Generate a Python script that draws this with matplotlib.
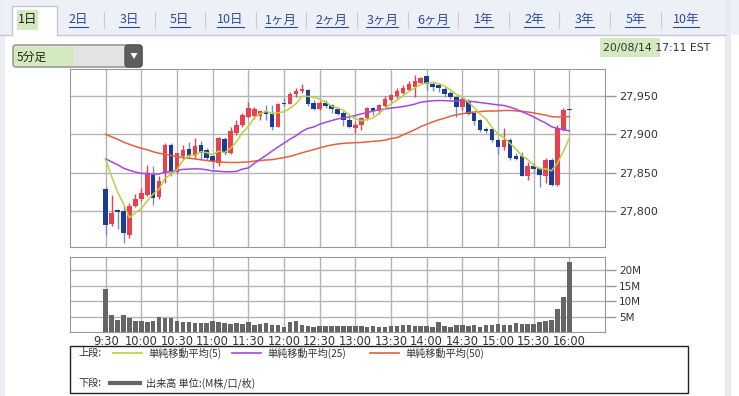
import numpy as np
import matplotlib.pyplot as plt
from matplotlib.patches import Rectangle, FancyBboxPatch, Polygon

jp = ['Noto Sans CJK JP', 'DejaVu Sans']
plt.rcParams['font.family'] = ['DejaVu Sans', 'Noto Sans CJK JP']

W, H = 739, 396

tabs = ['1日', '2日', '3日', '5日', '10日', '1ヶ月', '2ヶ月', '3ヶ月', '6ヶ月',
        '1年', '2年', '3年', '5年', '10年']
time_labels = ['9:30', '10:00', '10:30', '11:00', '11:30', '12:00', '12:30',
               '13:00', '13:30', '14:00', '14:30', '15:00', '15:30', '16:00']

# 5 minute bars 9:30 .. 16:00
opens = [27829, 27783, 27801, 27800, 27769, 27807, 27815, 27821, 27847, 27818,
         27849, 27886, 27851, 27871, 27881, 27871, 27886, 27880, 27871, 27862,
         27894, 27875, 27901, 27912, 27923, 27924, 27924, 27930, 27927, 27910,
         27941, 27940, 27953, 27956, 27957, 27941, 27933, 27941, 27938, 27933,
         27928, 27919, 27908, 27912, 27921, 27934, 27931, 27937, 27945, 27950,
         27954, 27958, 27961, 27967, 27976, 27965, 27964, 27959, 27954, 27949,
         27936, 27943, 27927, 27919, 27907, 27907, 27893, 27883, 27893, 27871,
         27871, 27846, 27858, 27856, 27846, 27867, 27834, 27906, 27933]
highs = [27831, 27821, 27803, 27806, 27810, 27822, 27830, 27860, 27858, 27845,
         27888, 27889, 27876, 27886, 27890, 27895, 27891, 27882, 27873, 27897,
         27896, 27910, 27918, 27928, 27942, 27936, 27932, 27938, 27938, 27941,
         27947, 27955, 27960, 27966, 27959, 27944, 27943, 27944, 27940, 27935,
         27930, 27922, 27916, 27923, 27936, 27936, 27940, 27950, 27953, 27960,
         27964, 27970, 27977, 27975, 27977, 27969, 27966, 27961, 27956, 27950,
         27948, 27946, 27928, 27920, 27909, 27908, 27894, 27908, 27895, 27875,
         27877, 27864, 27862, 27857, 27869, 27869, 27912, 27934, 27933]
lows = [27769, 27781, 27776, 27758, 27765, 27805, 27813, 27819, 27808, 27816,
        27836, 27845, 27849, 27867, 27869, 27869, 27867, 27866, 27856, 27859,
        27873, 27874, 27899, 27910, 27921, 27920, 27918, 27919, 27906, 27909,
        27937, 27939, 27949, 27954, 27937, 27931, 27931, 27934, 27928, 27925,
        27911, 27908, 27902, 27906, 27919, 27925, 27927, 27935, 27943, 27947,
        27952, 27956, 27949, 27965, 27957, 27956, 27955, 27949, 27946, 27923,
        27932, 27925, 27912, 27903, 27901, 27890, 27874, 27880, 27867, 27866,
        27845, 27840, 27850, 27831, 27836, 27833, 27833, 27904, 27932]
closes = [27782, 27797, 27798, 27771, 27807, 27816, 27823, 27848, 27817, 27839,
          27886, 27851, 27875, 27879, 27871, 27885, 27876, 27869, 27865, 27895,
          27875, 27904, 27912, 27925, 27934, 27933, 27930, 27927, 27910, 27940,
          27939, 27953, 27956, 27959, 27940, 27933, 27941, 27937, 27933, 27927,
          27918, 27910, 27912, 27921, 27934, 27930, 27938, 27946, 27951, 27956,
          27960, 27966, 27969, 27973, 27966, 27962, 27960, 27953, 27948, 27936,
          27946, 27927, 27917, 27905, 27904, 27892, 27883, 27893, 27869, 27868,
          27846, 27859, 27855, 27847, 27867, 27834, 27908, 27932, 27932]
# volume in millions
volume = [13.9, 5.4, 4.0, 5.4, 4.5, 3.7, 3.7, 3.4, 3.5, 4.8,
          4.4, 4.4, 3.5, 3.2, 3.2, 2.8, 2.8, 2.8, 3.5, 3.2,
          2.8, 2.6, 2.8, 2.6, 3.2, 2.4, 2.6, 2.8, 2.4, 2.4,
          1.7, 3.2, 3.5, 2.4, 2.1, 1.7, 2.0, 2.0, 2.1, 2.0,
          2.1, 2.1, 2.0, 2.0, 1.6, 2.1, 1.6, 1.7, 2.0, 2.0,
          2.3, 2.3, 2.1, 2.1, 2.1, 1.7, 3.2, 2.0, 1.6, 2.3,
          2.4, 2.1, 2.4, 1.6, 2.3, 2.3, 2.6, 2.4, 2.4, 2.8,
          2.6, 2.6, 2.7, 3.2, 3.5, 4.0, 7.4, 11.4, 22.6]
# closes of the previous session (feed the moving averages)
prev_close = [27962, 27958, 27955, 27953, 27950, 27948, 27946, 27944, 27942, 27941,
              27938, 27939, 27935, 27930, 27928, 27925, 27922, 27920, 27918, 27915,
              27914, 27913, 27911, 27909, 27882, 27895, 27890, 27884, 27878, 27872,
              27867, 27850, 27840, 27832, 27828, 27830, 27836, 27848, 27862, 27874,
              27885, 27893, 27906, 27900, 27892, 27907, 27898, 27851, 27897]

allc = np.array(prev_close + closes, dtype=float)
n0 = len(prev_close)


def sma(n):
    return np.array([allc[n0 + i - n + 1:n0 + i + 1].mean() for i in range(len(closes))])


fig = plt.figure(figsize=(W / 100, H / 100), dpi=100)
fig.patch.set_facecolor('white')


def px_axes(l, t, r, b, **kw):
    return fig.add_axes([l / W, 1 - b / H, (r - l) / W, (b - t) / H], **kw)


# ---- page decoration (pixel coords) ----
bg = fig.add_axes([0, 0, 1, 1], zorder=0)
bg.set_xlim(0, W)
bg.set_ylim(H, 0)
bg.axis('off')

bg.add_patch(Rectangle((0, 0), W, 35, color='#eef0f7', lw=0))
bg.add_patch(Rectangle((0, 0), 5, H, color='#eceef4', lw=0))
bg.add_patch(Rectangle((725, 0), 6, H, color='#e9e9f2', lw=0))
bg.plot([0, 12, 12, 57, 57, 725], [35, 35, 6, 6, 35, 35], color='#c3c7d6', lw=1)
bg.add_patch(Rectangle((12.5, 6.5), 44, 29, color='white', lw=0))
bg.add_patch(Rectangle((17, 10), 21, 20, color='#d3eabf', lw=0))

tab_x = np.arange(len(tabs)) * 50.6 + 28
link_texts = []
for i, (t, x) in enumerate(zip(tabs, tab_x)):
    if i == 0:
        bg.text(x, 20, t, ha='center', va='center', fontsize=9, family=jp, color='#222222')
    else:
        link_texts.append(bg.text(x, 20, t, ha='center', va='center', fontsize=9,
                                  family=jp, color='#2a4a9c'))
    if i >= 2:
        sx = (tab_x[i - 1] + x) / 2
        bg.plot([sx, sx], [12, 28], color='#c9ccd8', lw=0.8)

# dropdown
bg.add_patch(FancyBboxPatch((13, 45), 129, 22, boxstyle='round,pad=0,rounding_size=3',
                            fc='#e4e4e4', ec='#8a8a8a', lw=1))
bg.add_patch(Rectangle((14, 47), 60, 19, color='#d3eabf', lw=0))
bg.add_patch(FancyBboxPatch((125, 45), 17, 22, boxstyle='round,pad=0,rounding_size=3',
                            fc='#5e5e5e', ec='#555555', lw=1))
bg.add_patch(Polygon([[130.5, 53], [137.5, 53], [134, 59]], color='white', lw=0))
bg.text(17, 57, '5分足', ha='left', va='center', fontsize=8.5, family=jp, color='#222222')

# timestamp
bg.add_patch(Rectangle((600, 38), 60, 19, color='#d3eabf', lw=0))
bg.text(603, 47.5, '20/08/14 17:11 EST', ha='left', va='center', fontsize=7.8,
        color='#333333')

# ---- price panel ----
xs = np.arange(len(closes))
o = np.array(opens, float)
c = np.array(closes, float)
hi = np.array(highs, float)
lo = np.array(lows, float)
up = c >= o

ax = px_axes(70, 69, 605, 247)
ax.set_xlim(-6, 84)
ax.set_ylim(27753, 27985)
ax.set_xticks(range(0, 79, 6))
ax.set_yticks([27800, 27850, 27900, 27950])
ax.set_yticklabels(['27,800', '27,850', '27,900', '27,950'])
ax.grid(True, color='#b4b4b4', lw=1)
ax.set_axisbelow(True)
ax.tick_params(axis='x', length=0, labelbottom=False)
ax.tick_params(axis='y', left=False, labelleft=False, right=True, labelright=True,
               length=8, width=1, color='#999999', labelsize=8, labelcolor='#333333', pad=2)
for s in ax.spines.values():
    s.set_color('#999999')

ax.vlines(xs[up], lo[up], hi[up], color='#e8414e', lw=1, zorder=2)
ax.vlines(xs[~up], lo[~up], hi[~up], color='#6f8fcc', lw=1, zorder=2)
body = np.maximum(np.abs(c - o), 1.2)
ax.bar(xs[up], body[up], bottom=np.minimum(o, c)[up], width=0.75, color='#e8414e', zorder=3)
ax.bar(xs[~up], body[~up], bottom=np.minimum(o, c)[~up], width=0.75, color='#1d3a94', zorder=3)

ax.plot(xs, sma(50), color='#e5603d', lw=1.1, zorder=4)
ax.plot(xs, sma(25), color='#a447e4', lw=1.1, zorder=4)
ax.plot(xs, sma(5), color='#b9d23a', lw=1.1, zorder=4)

# ---- volume panel ----
av = px_axes(70, 257, 605, 332)
av.set_xlim(-6, 84)
av.set_ylim(0, 24.3)
av.bar(xs, volume, width=0.75, color='#666666', zorder=3)
av.set_xticks(range(0, 79, 6))
av.set_xticklabels(time_labels)
av.set_yticks([5, 10, 15, 20])
av.set_yticklabels(['5M', '10M', '15M', '20M'])
av.grid(True, color='#b4b4b4', lw=1)
av.set_axisbelow(True)
av.tick_params(axis='x', length=0, labelsize=8.3, labelcolor='#333333', pad=2)
av.tick_params(axis='y', left=False, labelleft=False, right=True, labelright=True,
               length=8, width=1, color='#999999', labelsize=7.5, labelcolor='#333333', pad=2)
for s in av.spines.values():
    s.set_color('#999999')
bg.text(74, 264, '単位: M', ha='left', va='center', fontsize=7, family=jp, color='#333333',
        zorder=5)

# ---- legend box ----
lg = fig.add_axes([0, 0, 1, 1], zorder=6)
lg.set_xlim(0, W)
lg.set_ylim(H, 0)
lg.axis('off')
lg.add_patch(Rectangle((70, 346), 618, 47, fc='white', ec='#222222', lw=1))
lg.text(78, 353, '上段:', ha='left', va='center', fontsize=7.3, family=jp, color='#333333')
for x0, col, label in [(113, '#b9d23a', '単純移動平均(5)'),
                       (232, '#a447e4', '単純移動平均(25)'),
                       (370, '#e5603d', '単純移動平均(50)')]:
    lg.plot([x0, x0 + 29], [353, 353], color=col, lw=1.2)
    lg.text(x0 + 35, 353, label, ha='left', va='center', fontsize=7.3, family=jp,
            color='#333333')
lg.text(78, 383, '下段:', ha='left', va='center', fontsize=7.3, family=jp, color='#333333')
lg.plot([110, 140], [383, 383], color='#666666', lw=3)
lg.text(146, 383, '出来高 単位:(M株/口/枚)', ha='left', va='center', fontsize=7.3,
        family=jp, color='#333333')

# underline the tab links
fig.canvas.draw()
r = fig.canvas.get_renderer()
inv = bg.transData.inverted()
for t in link_texts:
    bb = t.get_window_extent(r)
    (xa, ya), (xb, yb) = inv.transform([[bb.x0, bb.y0], [bb.x1, bb.y1]])
    bg.plot([xa, xb], [27, 27], color='#2a4a9c', lw=0.8)

fig.savefig('out.png', dpi=100)
